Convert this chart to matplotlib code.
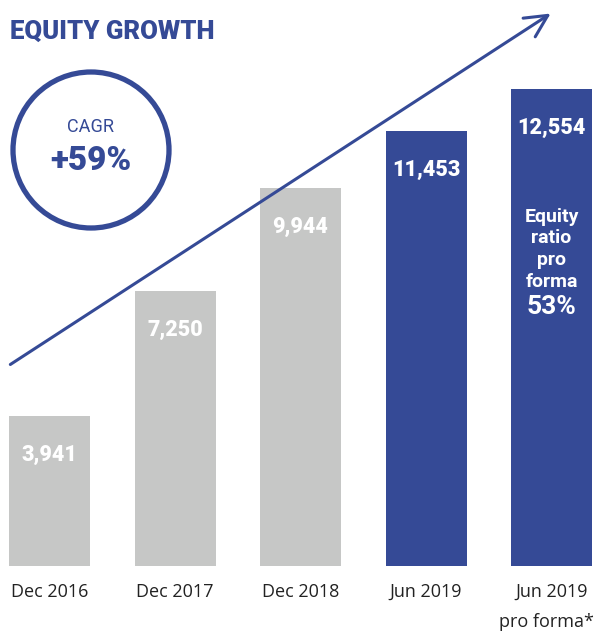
import matplotlib
matplotlib.use("Agg")
import matplotlib.pyplot as plt
from matplotlib.patches import Circle

categories = ["Dec 2016", "Dec 2017", "Dec 2018", "Jun 2019", "Jun 2019"]
sub_labels = ["", "", "", "", "pro forma*"]
values = [3941, 7250, 9944, 11453, 12554]
bar_colors = ["#c6c7c6", "#c6c7c6", "#c6c7c6", "#354a96", "#354a96"]
value_labels = ["3,941", "7,250", "9,944", "11,453", "12,554"]
title = "EQUITY GROWTH"
cagr_label = "CAGR"
cagr_value = "+59%"
ratio_lines = ["Equity", "ratio", "pro", "forma"]
ratio_value = "53%"

BLUE = "#354a96"
W, H = 596, 634
fig = plt.figure(figsize=(W / 100, H / 100), dpi=100)
ax = fig.add_axes([0, (H - 566) / H, 1, 566 / H])
ymax = 566 / 0.0380
ax.set_xlim(-49.5 / 125.5, (596 - 49.5) / 125.5)
ax.set_ylim(0, ymax)
ax.axis("off")

x = list(range(len(values)))
ax.bar(x, values, width=81 / 125.5, color=bar_colors, align="center")

pxu = ymax / 566  # data units per pixel
for xi, v, lab in zip(x, values, value_labels):
    ax.text(xi, v - 39 * pxu, lab, ha="center", va="center", color="white",
            fontsize=15.5, fontweight="heavy", family="Roboto")

# pro forma text in last bar
ys = [217, 238, 260, 282]
for t, yp in zip(ratio_lines, ys):
    ax.text(4, (566 - yp) * pxu, t, ha="center", va="center", color="white",
            fontsize=14, fontweight="bold", family="Roboto")
ax.text(4, (566 - 307) * pxu, ratio_value, ha="center", va="center", color="white",
        fontsize=19, fontweight="bold", family="Roboto")

# x labels
for xi, c, s in zip(x, categories, sub_labels):
    fig.text((49.5 + 125.5 * xi) / W, 1 - 592 / H, c, ha="center", va="center",
             fontsize=13, color="#222222", family="Open Sans")
    if s:
        fig.text(594 / W, 1 - 622 / H, s, ha="right", va="center",
                 fontsize=13, color="#222222", family="Open Sans")

# title
fig.text(10 / W, 1 - 32 / H, title, ha="left", va="center", color=BLUE,
         fontsize=18.5, fontweight="heavy", family="Roboto")

# arrow
fig.add_artist(matplotlib.patches.FancyArrowPatch(
    (8 / W, 1 - 366 / H), (553 / W, 1 - 12 / H), transform=fig.transFigure,
    arrowstyle="->,head_length=10,head_width=5", color=BLUE, lw=2.2,
    mutation_scale=1.6))

# CAGR circle
circ = Circle((91, H - 150), 78, transform=None, fill=False, ec=BLUE, lw=3.8)
fig.add_artist(circ)
fig.text(91 / W, 1 - 127 / H, cagr_label, ha="center", va="center", color=BLUE,
         fontsize=13, family="Roboto")
fig.text(91 / W, 1 - 161 / H, cagr_value, ha="center", va="center", color=BLUE,
         fontsize=24, fontweight="heavy", family="Roboto")

fig.savefig("out.png", dpi=100)
